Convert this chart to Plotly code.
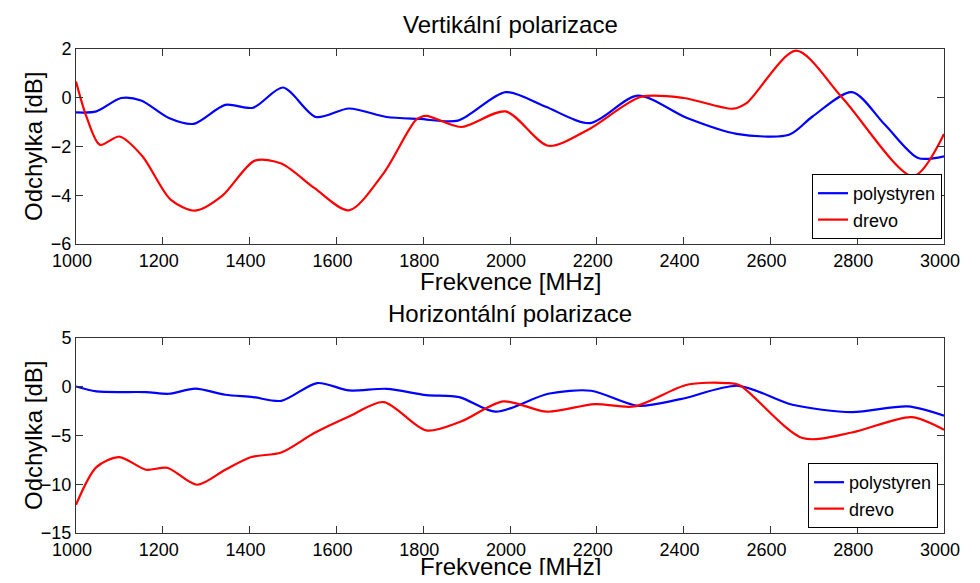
import plotly.graph_objects as go

# ---- data ----
v_poly_f = [1000, 1047, 1104, 1150, 1214, 1271, 1344, 1408, 1477, 1553, 1629, 1716, 1792, 1880, 1990,
            2081, 2184, 2294, 2408, 2522, 2643, 2697, 2788, 2864, 2940, 3000]
v_poly = [-0.60, -0.56, -0.01, -0.11, -0.83, -1.07, -0.29, -0.41, 0.42, -0.79, -0.44, -0.79, -0.87, -0.94, 0.23,
          -0.36, -1.04, 0.09, -0.83, -1.48, -1.52, -0.77, 0.23, -1.11, -2.47, -2.40]

v_drevo_f = [1000, 1024, 1055, 1100, 1153, 1218, 1275, 1336, 1412, 1473, 1549, 1629, 1709, 1784, 1807, 1887,
             1990, 2088, 2180, 2301, 2400, 2514, 2545, 2659, 2766, 2929, 3000]
v_drevo = [0.67, -0.77, -1.93, -1.59, -2.40, -4.18, -4.63, -4.04, -2.58, -2.70, -3.70, -4.62, -3.09, -0.90, -0.74, -1.20,
           -0.56, -1.97, -1.31, 0.03, -0.01, -0.45, -0.22, 1.93, -0.01, -3.22, -1.49]

h_poly_f = [1000, 1047, 1161, 1214, 1275, 1344, 1408, 1473, 1556, 1629, 1716, 1807, 1883, 1967,
            2088, 2187, 2294, 2393, 2526, 2651, 2788, 2917, 3000]
h_poly = [0.03, -0.48, -0.55, -0.72, -0.20, -0.82, -1.06, -1.44, 0.38, -0.38, -0.21, -0.85, -1.06, -2.56,
          -0.72, -0.41, -1.95, -1.27, 0.10, -1.85, -2.60, -2.02, -2.97]

h_drevo_f = [1000, 1047, 1100, 1161, 1210, 1279, 1344, 1404, 1473, 1549, 1629, 1709, 1807, 1887, 1985,
             2085, 2195, 2286, 2408, 2499, 2530, 2674, 2788, 2925, 3000]
h_drevo = [-12.1, -8.24, -7.21, -8.51, -8.31, -10.05, -8.51, -7.21, -6.74, -4.75, -3.05, -1.57, -4.48, -3.56, -1.50,
           -2.56, -1.78, -2.02, 0.21, 0.38, 0.14, -5.26, -4.69, -3.11, -4.41]

x_ticks = [1000, 1200, 1400, 1600, 1800, 2000, 2200, 2400, 2600, 2800, 3000]
y_ticks_top = [-6, -4, -2, 0, 2]
y_ticks_bot = [-15, -10, -5, 0, 5]

title_top = "Vertikální polarizace"
title_bot = "Horizontální polarizace"
xlabel = "Frekvence [MHz]"
ylabel = "Odchylka [dB]"
names = ["polystyren", "drevo"]

FONT = "Liberation Sans, Arial, Helvetica, sans-serif"
BLUE = "#0000ff"
RED = "#ff0000"
AX = "#333333"

fig = go.Figure()

def add(x, y, color, name, xa, ya, legend):
    fig.add_trace(go.Scatter(x=x, y=y, mode="lines", name=name, xaxis=xa, yaxis=ya, legend=legend,
                             line=dict(color=color, width=2.2, shape="spline", smoothing=0.8)))

add(v_poly_f, v_poly, BLUE, names[0], "x", "y", "legend")
add(v_drevo_f, v_drevo, RED, names[1], "x", "y", "legend")
add(h_poly_f, h_poly, BLUE, names[0], "x2", "y2", "legend2")
add(h_drevo_f, h_drevo, RED, names[1], "x2", "y2", "legend2")

axcommon = dict(showline=True, linecolor=AX, linewidth=1, mirror="ticks", ticks="inside", ticklen=7,
                tickcolor=AX, showgrid=False, zeroline=False,
                tickfont=dict(family=FONT, size=18, color="black"))
xextra = dict(ticklabelshift=-4)

# page body keeps its 8px margin: figure is 964x567 so the page is exactly 980x583;
# screen coords = figure coords + 8
top_dom = [(533 - 244) / 484, 1.0]
bot_dom = [0.0, (533 - 338) / 484]

fig.update_layout(
    width=964, height=567,
    margin=dict(l=68, r=18, t=41, b=42),
    paper_bgcolor="white", plot_bgcolor="white",
    font=dict(family=FONT, color="black"),
    xaxis=dict(domain=[0, 1], anchor="y", range=[1000, 3000], tickvals=x_ticks, **axcommon, **xextra),
    yaxis=dict(domain=top_dom, anchor="x", range=[-6, 2], tickvals=y_ticks_top, **axcommon),
    xaxis2=dict(domain=[0, 1], anchor="y2", range=[1000, 3000], tickvals=x_ticks, **axcommon, **xextra),
    yaxis2=dict(domain=bot_dom, anchor="x2", range=[-15, 5], tickvals=y_ticks_bot, **axcommon),
    legend=dict(x=(952 - 76) / 878, y=(533 - 239) / 484, xanchor="right", yanchor="bottom",
                bgcolor="white", bordercolor="black", borderwidth=1,
                font=dict(family=FONT, size=18, color="black"), tracegroupgap=0, itemwidth=30),
    legend2=dict(x=(948 - 76) / 878, y=(533 - 528) / 484, xanchor="right", yanchor="bottom",
                 bgcolor="white", bordercolor="black", borderwidth=1,
                 font=dict(family=FONT, size=18, color="black"), tracegroupgap=0, itemwidth=30),
)

def ann(text, px, py, size, angle=0):
    fig.add_annotation(text=text, xref="paper", yref="paper",
                       x=(px - 76) / 878, y=(533 - py) / 484, xanchor="center", yanchor="middle",
                       showarrow=False, textangle=angle, font=dict(family=FONT, size=size, color="black"))

ann(title_top, 515, 25, 24)
ann(title_bot, 515, 313, 24)
ann(xlabel, 515, 281, 24)
ann(xlabel, 515, 566, 24)
ann(ylabel, 33, (49 + 244) / 2, 24, -90)
ann(ylabel, 33, (338 + 533) / 2, 24, -90)

fig.write_html("out.html")
